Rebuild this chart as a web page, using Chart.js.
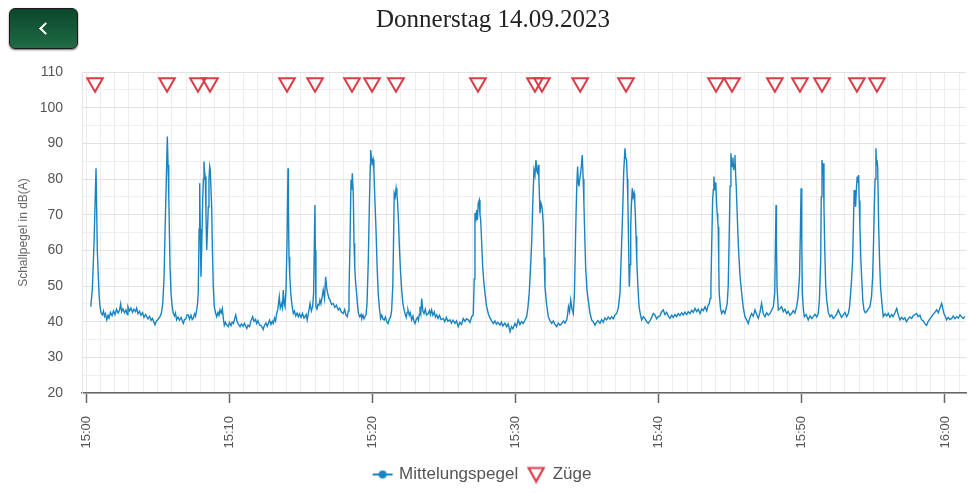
<!DOCTYPE html>
<html><head><meta charset="utf-8">
<script src="https://cdn.jsdelivr.net/npm/chart.js@4.4.0/dist/chart.umd.min.js"></script>
<style>
html,body{margin:0;padding:0;background:#fff;overflow:hidden;}
#wrap{position:relative;width:986px;height:493px;}
#back{position:absolute;left:9px;top:8px;width:67px;height:39px;border-radius:6px;background:linear-gradient(#0a472a,#206b46);border:1.5px solid #1a1a1a;box-shadow:0 1px 2px rgba(0,0,0,.6);z-index:2;}
#back span{position:absolute;left:31px;top:15px;width:7px;height:7px;border-left:2.5px solid #fff;border-bottom:2.5px solid #fff;transform:rotate(45deg);}
#title{position:absolute;left:0;top:5px;width:986px;height:30px;line-height:30px;text-align:center;font:25px 'Liberation Serif',serif;color:#222;z-index:1;}
canvas{display:block;}
</style></head><body>
<div id="wrap"><div id="back" title="zurück"><span></span></div><div id="title">Donnerstag 14.09.2023</div><canvas id="c"></canvas></div>
<script>
// ---- data (minutes after 15:00) ----
const xLabelMinutes = [0, 10, 20, 30, 40, 50, 60];
const xLabels = ['15:00', '15:10', '15:20', '15:30', '15:40', '15:50', '16:00'];
const yLabels = [20, 30, 40, 50, 60, 70, 80, 90, 100, 110];

const minutes = [
0.33,0.44,0.56,0.70,0.79,0.86,0.92,0.98,1.05,1.14,
1.22,1.29,1.36,1.45,1.54,1.61,1.71,1.82,1.92,2.03,
2.13,2.24,2.34,2.42,2.49,2.58,2.69,2.79,2.88,2.93,
3.04,3.14,3.25,3.35,3.46,3.54,3.63,3.74,3.84,3.95,
4.05,4.16,4.24,4.33,4.44,4.54,4.64,4.75,4.82,4.92,
5.03,5.17,5.27,5.36,
5.45,5.52,5.61,5.68,5.73,5.78,5.83,5.87,5.94,6.01,
6.10,6.18,6.25,6.33,6.43,6.53,6.64,6.73,6.80,6.88,
6.98,7.05,7.15,7.23,7.33,7.42,7.49,7.58,7.65,7.73,
7.79,7.84,
7.90,7.94,7.98,8.03,8.09,8.15,8.20,8.24,8.28,8.33,
8.38,8.43,8.49,8.54,8.59,8.64,8.68,8.73,8.78,8.82,
8.89,8.96,
9.05,9.13,9.22,9.29,9.36,9.44,9.52,9.59,9.66,9.74,
9.81,9.94,10.02,10.13,10.21,10.30,10.38,10.46,10.55,10.65,
10.76,10.86,10.97,11.07,11.23,11.32,11.42,11.52,11.64,11.73,
11.84,11.92,12.01,12.12,12.22,12.31,12.38,12.46,12.57,12.66,
12.73,12.82,12.92,13.01,13.08,13.17,13.24,13.32,13.40,13.50,
13.57,13.67,13.72,13.78,13.84,13.90,13.97,
14.04,14.11,14.14,14.18,14.23,14.30,14.39,14.48,14.56,14.65,
14.74,14.83,14.91,15.02,15.12,15.23,15.30,15.38,15.45,15.54,
15.65,15.74,15.83,15.90,15.99,16.02,16.06,16.13,16.20,16.27,
16.34,16.41,16.50,16.57,16.66,16.74,16.81,16.88,16.97,17.04,
17.15,17.27,17.38,17.49,17.62,17.72,17.85,17.97,18.07,18.16,
18.25,18.32,18.37,18.44,18.51,18.56,18.60,18.67,18.72,18.77,
18.83,18.90,18.97,19.03,19.12,19.21,19.26,19.35,19.42,19.49,
19.56,19.63,19.72,19.79,19.86,19.88,19.94,19.99,20.06,20.11,
20.18,20.25,20.33,20.41,20.50,20.58,20.66,20.75,20.83,20.92,
21.00,21.10,21.19,21.28,21.35,21.43,21.48,21.53,21.60,21.66,
21.72,21.77,21.83,21.88,21.97,22.05,22.14,22.21,22.28,22.37,
22.43,22.49,22.58,22.65,22.75,22.84,22.91,22.98,23.07,23.15,
23.22,23.28,23.33,23.39,23.45,23.53,23.61,23.70,23.78,23.91,
23.99,24.06,24.14,24.23,24.33,24.41,24.50,24.59,24.69,24.80,
24.96,25.06,25.17,25.28,25.42,25.53,25.63,25.77,25.88,26.00,
26.11,26.23,26.35,26.47,26.58,26.70,26.82,26.94,27.05,27.12,
27.17,27.24,27.29,27.34,27.40,27.47,27.52,27.57,27.64,27.71,
27.78,27.87,27.97,28.10,28.20,28.32,28.45,28.57,28.67,28.77,
28.92,29.02,29.12,29.26,29.38,29.49,29.62,29.72,29.82,29.96,
30.07,30.19,30.31,30.42,30.54,30.66,30.78,30.87,30.96,31.04,
31.13,31.20,31.29,31.36,31.43,31.50,31.55,31.60,31.64,31.71,
31.78,31.85,31.90,31.94,32.00,32.06,32.17,32.29,32.41,32.53,
32.64,32.76,32.88,32.99,33.11,33.23,33.36,33.46,33.58,33.64,
33.70,33.78,33.86,33.95,34.04,34.12,34.21,34.28,34.34,34.39,
34.43,34.49,34.55,34.61,34.66,34.73,34.78,34.84,34.90,34.99,
35.08,35.20,35.32,35.43,35.55,35.66,35.76,35.90,36.02,36.13,
36.25,36.37,36.48,36.60,36.72,36.83,36.95,37.07,37.18,37.30,
37.40,37.49,37.56,37.65,37.70,37.76,37.81,37.85,37.90,37.95,
38.00,38.05,38.10,38.16,38.22,38.28,38.33,38.37,38.42,38.47,
38.55,38.63,38.73,38.81,38.93,39.04,39.16,39.27,39.39,39.51,
39.63,39.74,39.86,39.97,40.09,40.21,40.32,40.44,40.56,40.67,
40.79,40.91,41.02,41.14,41.26,41.37,41.49,41.61,41.72,41.84,
41.96,42.07,42.19,42.31,42.42,42.54,42.66,42.77,42.89,43.01,
43.12,43.24,43.36,43.45,43.54,43.60,43.65,43.71,43.77,43.82,
43.86,43.90,43.93,43.97,44.00,44.05,44.09,44.13,44.16,44.20,
44.23,44.32,44.40,44.51,44.63,44.71,44.79,44.86,44.92,44.99,
45.05,45.10,45.14,45.19,45.24,45.28,45.33,45.38,45.42,45.49,
45.56,45.68,45.80,45.91,46.03,46.15,46.26,46.38,46.49,46.61,
46.73,46.85,46.96,47.08,47.19,47.31,47.43,47.54,47.66,47.78,
47.89,48.01,48.11,48.20,48.23,48.27,48.36,48.48,48.59,48.71,
48.82,48.94,49.05,49.17,49.29,49.40,49.52,49.64,49.73,49.84,
49.90,49.95,50.00,50.04,50.11,50.18,50.30,50.45,50.58,50.70,
50.80,50.92,51.04,51.15,51.23,51.32,51.36,51.41,51.46,51.50,
51.55,51.60,51.67,51.74,51.85,51.97,52.09,52.20,52.32,52.44,
52.55,52.67,52.78,52.90,53.02,53.13,53.25,53.33,53.41,53.48,
53.55,53.61,53.66,53.71,53.76,53.81,53.87,53.92,53.97,54.01,
54.06,54.12,54.18,54.26,54.34,54.43,54.53,54.64,54.76,54.87,
54.95,55.01,55.06,55.12,55.18,55.22,55.25,55.30,55.37,55.44,
55.50,55.60,55.69,55.81,55.93,56.04,56.16,56.28,56.38,56.51,
56.63,56.74,56.86,56.97,57.09,57.20,57.31,57.43,57.55,57.67,
57.79,57.90,58.02,58.13,58.25,58.37,58.49,58.60,58.72,58.83,
58.95,59.07,59.18,59.30,59.42,59.53,59.65,59.77,59.86,59.93,
60.02,60.12,60.23,60.35,60.47,60.58,60.70,60.82,60.93,61.05,
61.17,61.28,61.40
];

const levels = [
44.2,48.9,62,83,60,52.6,47,44.2,42.5,41.9,
43,41.5,42.2,40.5,41.8,41,42.6,41.7,43,42,
43.5,42.4,43.2,45,42.8,43.6,42.5,43.3,42,44.2,
43,43.8,42.6,43.5,42.8,43.8,42.2,42.9,41.8,42.5,
41.2,42,41.4,40.8,41.5,40.4,40.9,39.8,39.1,40.2,
40.6,41.4,42.5,45.1,
52,64.9,80,91.9,84,76,64,55.4,48,44.5,
42.3,41.6,42.4,40.5,41.3,40.4,41.2,40.2,39.5,40.6,
40.8,41.9,41.9,40.7,41.8,40.6,40.9,42.2,41.5,43.3,
45,48,
66,78.8,66,52.6,62,74,80,84.9,82,80.7,
70,60.1,66,72.2,80,83.5,82.5,82.5,72,62,
50,44.2,
42.5,41.4,42.6,41.8,43.3,42.4,43.7,41,39,39.8,
39.2,38.6,39.8,38.9,39.9,39.5,40.8,41.9,40.1,39.2,
38.6,39.4,38.7,39.5,38.1,39,38.6,40.2,41.4,40.1,
40.6,39.5,40.3,39.1,38.9,38.4,37.8,38.9,39.6,38.7,
39.5,40.4,39.2,40.1,39.5,41,40.2,42.3,43.5,47,
43.8,45.1,44,48.9,45,44.2,48.9,
62,83,72,58.2,53,48,44.5,42.3,43,41.6,
42.4,41.4,42.2,41.2,42.3,41,41.4,42,40.5,42.5,
45.1,43,44.2,48,72.7,60,44.2,43.5,44.8,44.6,
46.1,45,47,48.9,46.5,52.6,49.5,48,46.5,46.1,
44.8,45.1,44,44.6,43.3,43.8,42.6,42.3,43.4,41.8,
41.4,43,48,62,79.7,77,81.6,76,62,55.4,
51,48,44.5,42.3,41.4,42,40.9,41.8,40.8,41.4,
42,45,57.3,72,84,88.1,86,84.4,85.5,82.5,
74,66.6,56,48,43.5,40.9,41.8,40.7,40.5,41.3,
40,39.5,40.8,41.4,43.3,50,62,76,75,77.4,
75.5,73.2,68,62,54,48.9,45,43.5,42.3,41.2,
42.6,43.3,41.8,42.5,40.5,41.6,40.2,39.5,40.6,41.2,
40.4,42,44.2,42.5,46.5,43,42.3,43.5,41.9,42.3,
43.1,42,43.3,41.8,42.7,41.3,41.9,40.9,41.8,40.6,
40.9,40,41.2,40.1,40.5,39.6,40.4,39.5,40.2,38.6,
39.8,39.2,40.9,40.1,40.8,40.5,39.8,41.4,41.9,52,
70.4,69,71.3,68.5,73.2,74.1,70,68.5,62,55.4,
51.5,48,44.5,42.3,41.2,40.3,39.5,40.2,39.3,39.8,
39,39.9,38.8,39.6,38.6,39.4,37.2,38.6,38,39.5,
38.6,40.5,39.2,40,39.5,40.4,41.4,44,48,54,
62,72,82.5,81,85.3,82,81.6,84,79.7,70.4,
73.2,72.2,70,67.5,58,49.8,45,41.4,40.3,39.5,
40.2,39.2,38.6,39.6,39,39.5,40.2,39.6,40.5,42,
44.2,42.8,46.1,43.5,42.3,48,66.6,78,83.5,79,
77.9,80,81.6,84,86.7,80,73.2,64,55.4,49,
46.1,42.5,40.5,40,39,39.8,40.3,39.5,40.6,39.8,
41,40.5,41.3,40.7,41.4,40.8,41.9,42.3,43.8,48,
60,71.3,82,88.6,86,85.3,80,74.1,62,49.8,
56,66.6,73,77.4,75,76,73.5,70.4,64,57.3,
50,44.2,42,40.5,41.4,40.9,40,39.5,40.2,41.2,
42.3,41.9,40.8,41.4,41.6,42.8,43.3,42,42.6,41.6,
40.9,41.8,41.2,42,41.4,42.3,41.7,42.5,41.9,42.7,
42,42.8,42.3,43.2,42.6,43.7,42.8,43.5,42.3,43.6,
43.1,44.2,43,44.5,45.1,46.5,49.8,62,74.1,77,
80.7,78,76.9,79,77.9,73,70.4,68,66.6,56,
48,43.8,42.3,43.1,42.3,43.6,45.1,50,62,78,
87.2,84,83.5,86,82.5,84,86.7,81,77.9,70,
62,53,48,44,41.4,40.5,39.5,41.2,42.3,41.5,
43.3,42,40.9,42.6,45.1,42.2,41.4,42.5,41.8,42.3,
43.2,44.2,48,72.7,62,49.8,43.3,43.7,44.2,42.8,
43.5,42.3,42.9,41.8,42.3,43.1,42.4,44.2,46.5,52.6,
65,77.4,62,48,43.5,41.4,42,40.5,41.6,40.9,
41.4,42.1,41.3,42.3,46,57.3,75,85.3,83,84.4,
72,61,50,46.1,42.6,41.4,41.9,40.9,41.4,42.2,
43.3,42.1,41.2,41.9,42.6,41.4,42.3,44,48,52,
57.3,68,76.9,74,72.2,77,80.7,79,81.1,74,
66.6,58,52.6,46,43.3,42.5,42.8,43.6,44.2,47,
52.6,62,71.3,80,88.6,84,85.3,83.5,66.6,56,
49.8,45,41.4,42.2,41.6,42.3,41.3,42,41.4,42.5,
43.7,41.9,40.5,41.2,40.6,41.1,40,40.8,41.3,40.9,
41.7,42,42.3,41.4,41.8,40.5,40.2,39.4,39,40.1,
40.8,41.4,42.1,42.6,43.3,42.5,43.8,45.1,43.5,42.3,
41.5,40.5,41.2,40.6,40.9,41.6,40.8,41.4,41,41.9,
41.3,40.9,41.5
];

// train passages (minutes after 15:00), drawn as markers
const trainMinutes = [0.63, 5.66, 7.82, 8.66, 14.04, 16.00, 18.58, 19.98, 21.65, 27.38, 31.36, 31.85, 34.52, 37.72, 44.01, 45.12, 48.12, 49.87, 51.41, 53.85, 55.25];
const trainMarkerLevel = 107;

// ---- styling ----
const LINE_COLOR = '#1a84c1';
const TRAIN_COLOR = '#dc3c46';

if (minutes.length !== levels.length) console.error('length mismatch', minutes.length, levels.length);

const gridMinutes = [];
for (let m = 0; m <= 61; m++) gridMinutes.push(m);
const yGrid = [];
for (let v = 20; v <= 110; v += 5) yGrid.push(v);

// linear scale whose rotated labels do not reserve extra side padding
class MinuteScale extends Chart.LinearScale {
  _calculatePadding() { this.paddingLeft = 0; this.paddingRight = 0; this.paddingTop = 0; this.paddingBottom = 0; }
}
MinuteScale.id = 'minutes';
MinuteScale.defaults = Chart.LinearScale.defaults;
Chart.register(MinuteScale);

function lineIcon() {
  const c = document.createElement('canvas'); c.width = 22; c.height = 10;
  const g = c.getContext('2d');
  g.strokeStyle = LINE_COLOR; g.lineWidth = 2;
  g.beginPath(); g.moveTo(1, 5); g.lineTo(21, 5); g.stroke();
  g.fillStyle = LINE_COLOR; g.beginPath(); g.arc(11, 5, 4, 0, Math.PI * 2); g.fill();
  return c;
}
function triIcon() {
  const c = document.createElement('canvas'); c.width = 20; c.height = 18;
  const g = c.getContext('2d');
  g.strokeStyle = TRAIN_COLOR; g.lineWidth = 2.2; g.lineJoin = 'miter';
  g.beginPath(); g.moveTo(2.5, 2.5); g.lineTo(17.5, 2.5); g.lineTo(10, 16); g.closePath(); g.stroke();
  return c;
}
const icons = [lineIcon(), triIcon()];

new Chart(document.getElementById('c'), {
  data: {
    datasets: [
      {
        type: 'line',
        label: 'Mittelungspegel',
        data: minutes.map((m, i) => ({ x: m, y: levels[i] })),
        borderColor: LINE_COLOR,
        backgroundColor: LINE_COLOR,
        borderWidth: 1.4,
        pointRadius: 0,
        pointHoverRadius: 0,
        tension: 0
      },
      {
        type: 'scatter',
        label: 'Züge',
        data: trainMinutes.map(m => ({ x: m, y: trainMarkerLevel })),
        pointStyle: 'triangle',
        rotation: 180,
        pointRadius: 9,
        borderColor: TRAIN_COLOR,
        backgroundColor: 'rgba(255,255,255,0)',
        borderWidth: 2
      }
    ]
  },
  options: {
    responsive: true,
    maintainAspectRatio: false,
    animation: false,
    layout: { padding: { left: 0, right: 20, top: 72, bottom: 0 } },
    plugins: {
      title: { display: false },
      legend: {
        position: 'bottom',
        labels: {
          usePointStyle: true,
          pointStyleWidth: 16,
          color: '#555',
          padding: 10,
          font: { family: "'Liberation Sans', Arial, sans-serif", size: 17 },
          generateLabels: (chart) => {
            const items = Chart.defaults.plugins.legend.labels.generateLabels(chart);
            items.forEach(it => { it.pointStyle = icons[it.datasetIndex]; it.rotation = 0; });
            return items;
          }
        }
      },
      tooltip: { enabled: false }
    },
    scales: {
      x: {
        type: 'minutes',
        position: 'bottom',
        min: -0.28,
        max: 61.47,
        afterBuildTicks: s => { s.ticks = gridMinutes.map(v => ({ value: v })); },
        afterFit: s => { s.height = 63; },
        ticks: {
          autoSkip: false,
          minRotation: 90,
          maxRotation: 90,
          padding: 13,
          color: '#555',
          font: { family: "'Liberation Sans', Arial, sans-serif", size: 13 },
          callback: v => { const i = xLabelMinutes.indexOf(v); return i < 0 ? '' : xLabels[i]; }
        },
        grid: {
          color: '#ececec',
          lineWidth: 1,
          tickLength: 10,
          tickWidth: 1.5,
          tickColor: c => (c.tick && c.tick.value % 10 === 0) ? '#666' : 'rgba(0,0,0,0)'
        },
        border: { color: '#666', width: 1.5 }
      },
      y: {
        type: 'linear',
        min: 20,
        max: 110,
        afterBuildTicks: s => { s.ticks = yGrid.map(v => ({ value: v })); },
        afterFit: s => { s.width = 82; },
        ticks: {
          autoSkip: false,
          padding: 19,
          color: '#555',
          font: { family: "'Liberation Sans', Arial, sans-serif", size: 14 },
          callback: v => yLabels.includes(v) ? String(v) : ''
        },
        grid: {
          drawTicks: false,
          color: c => (c.tick && c.tick.value % 10 === 0) ? '#e2e2e2' : '#efefef'
        },
        border: { color: '#e4e4e4' },
        title: {
          display: true,
          text: 'Schallpegel in dB(A)',
          color: '#666',
          font: { family: "'Liberation Sans', Arial, sans-serif", size: 12 },
          padding: { top: 16, bottom: 0 }
        }
      }
    }
  }
});
</script>
</body></html>
